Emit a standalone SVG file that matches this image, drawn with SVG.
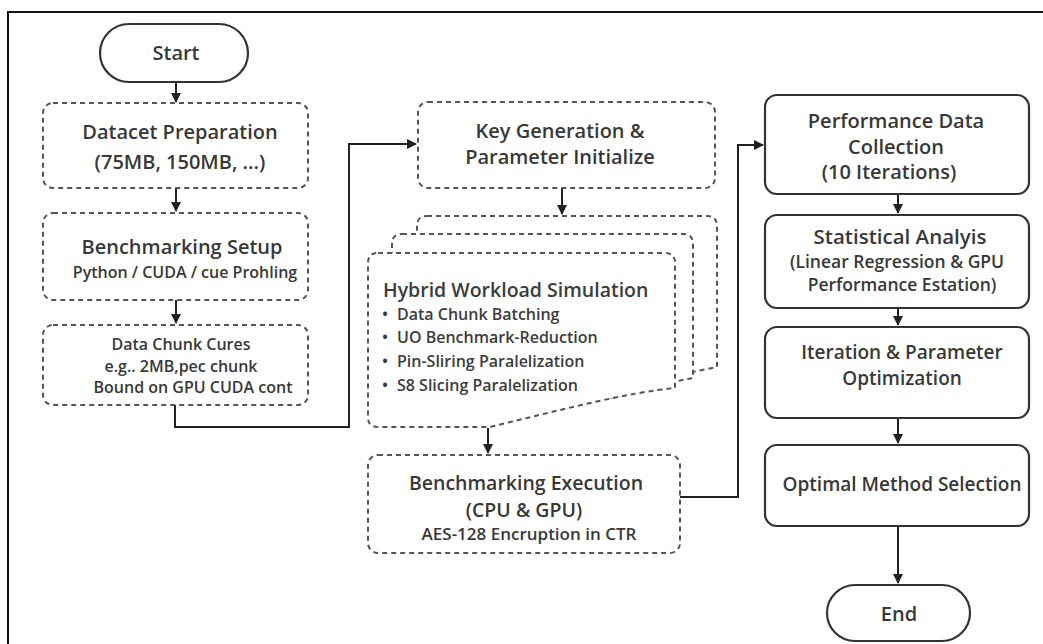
<svg xmlns="http://www.w3.org/2000/svg" width="1043" height="644" viewBox="0 0 1043 644">
<style>
.t{font-family:"Open Sans","Liberation Sans",sans-serif;font-weight:600;fill:#383838;text-anchor:middle}
.s{font-family:"Open Sans","Liberation Sans",sans-serif;font-weight:600;fill:#3c3c3c}
.d{fill:#fff;stroke:#555;stroke-width:2;stroke-dasharray:5 4}
.b{fill:#fff;stroke:#333;stroke-width:2.2}
.c{fill:none;stroke:#222;stroke-width:2}
</style>
<defs>
<marker id="ah" viewBox="0 0 10 10" refX="9" refY="5" markerWidth="5" markerHeight="5" orient="auto">
<path d="M0,0 L10,5 L0,10 Z" fill="#222"/>
</marker>
</defs>
<rect x="0" y="0" width="1043" height="644" fill="#fff"/>
<path d="M8,650 V12 H1050" fill="none" stroke="#111" stroke-width="2"/>

<g id="connectors">
<line class="c" x1="176" y1="82" x2="176" y2="102" marker-end="url(#ah)"/>
<line class="c" x1="176" y1="188" x2="176" y2="211" marker-end="url(#ah)"/>
<line class="c" x1="176" y1="300" x2="176" y2="323" marker-end="url(#ah)"/>
<path class="c" d="M175,405 V427 H349 V144 H416" marker-end="url(#ah)"/>
<line class="c" x1="562" y1="188" x2="562" y2="214" marker-end="url(#ah)"/>
<line class="c" x1="488" y1="428" x2="488" y2="453" marker-end="url(#ah)"/>
<path class="c" d="M680,497 H738 V145 H763" marker-end="url(#ah)"/>
<line class="c" x1="898" y1="194" x2="898" y2="213" marker-end="url(#ah)"/>
<line class="c" x1="898" y1="308" x2="898" y2="325" marker-end="url(#ah)"/>
<line class="c" x1="898" y1="418" x2="898" y2="443" marker-end="url(#ah)"/>
<line class="c" x1="898" y1="526" x2="898" y2="583" marker-end="url(#ah)"/>
</g>

<g id="start">
<rect class="b" x="100" y="24" width="148" height="58" rx="29"/>
<text class="t" x="176" y="60" font-size="20">Start</text>
</g>

<g id="dataset">
<rect class="d" x="43" y="103" width="265" height="85" rx="10"/>
<text class="t" x="180" y="139" font-size="20">Datacet Preparation</text>
<text class="t" x="180" y="169" font-size="20">(75MB, 150MB, ...)</text>
</g>

<g id="setup">
<rect class="d" x="43" y="213" width="265" height="87" rx="10"/>
<text class="t" x="182" y="254" font-size="20">Benchmarking Setup</text>
<text class="t" x="185" y="278" font-size="16">Python / CUDA / cue Prohling</text>
</g>

<g id="chunk">
<rect class="d" x="43" y="325" width="265" height="80" rx="10"/>
<text class="t" x="181" y="350" font-size="16">Data Chunk Cures</text>
<text class="t" x="181" y="372" font-size="16">e.g.. 2MB,pec chunk</text>
<text class="t" x="193" y="393" font-size="16">Bound on GPU CUDA cont</text>
</g>

<g id="keygen">
<rect class="d" x="418" y="102" width="297" height="86" rx="10"/>
<text class="t" x="560" y="138" font-size="20">Key Generation &amp;</text>
<text class="t" x="560" y="164" font-size="20">Parameter Initialize</text>
</g>

<g id="hybrid">
<path class="d" d="M427,216 H707 Q717,216 717,226 V367 C690,372 660,380 640,385 L500,400 Q470,400 430,395 Q417,395 417,385 V226 Q417,216 427,216 Z"/>
<path class="d" d="M402,234 H683 Q693,234 693,244 V378 C665,383 635,392 610,398 L480,412 Q450,412 405,408 Q392,408 392,398 V244 Q392,234 402,234 Z"/>
<path class="d" d="M378,253 H665 Q675,253 675,263 V388 C630,392 560,410 490,427 H378 Q368,427 368,417 V263 Q368,253 378,253 Z"/>
<text class="s" x="383" y="297" font-size="19.5">Hybrid Workload Simulation</text>
<text class="s" x="382" y="320" font-size="16">•</text>
<text class="s" x="397" y="320" font-size="16">Data Chunk Batching</text>
<text class="s" x="382" y="343" font-size="16">•</text>
<text class="s" x="397" y="343" font-size="16">UO Benchmark-Reduction</text>
<text class="s" x="382" y="367" font-size="16">•</text>
<text class="s" x="397" y="367" font-size="16">Pin-Sliring Paralelization</text>
<text class="s" x="382" y="391" font-size="16">•</text>
<text class="s" x="397" y="391" font-size="16">S8 Slicing Paralelization</text>
</g>

<g id="exec">
<rect class="d" x="368" y="455" width="312" height="98" rx="10"/>
<text class="t" x="526" y="490" font-size="19.5">Benchmarking Execution</text>
<text class="t" x="524" y="517" font-size="19.5">(CPU &amp; GPU)</text>
<text class="t" x="529" y="540" font-size="17">AES-128 Encruption in CTR</text>
</g>

<g id="perf">
<rect class="b" x="765" y="95" width="264" height="99" rx="12"/>
<text class="t" x="896" y="128" font-size="20">Performance Data</text>
<text class="t" x="896" y="154" font-size="20">Collection</text>
<text class="t" x="889" y="179" font-size="20">(10 Iterations)</text>
</g>

<g id="stat">
<rect class="b" x="765" y="215" width="264" height="93" rx="12"/>
<text class="t" x="900" y="244" font-size="20.5">Statistical Analyis</text>
<text class="t" x="897" y="268" font-size="17.5">(Linear Regression &amp; GPU</text>
<text class="t" x="902" y="291" font-size="17.5">Performance Estation)</text>
</g>

<g id="iter">
<rect class="b" x="765" y="327" width="264" height="91" rx="12"/>
<text class="t" x="902" y="359" font-size="19">Iteration &amp; Parameter</text>
<text class="t" x="902" y="385" font-size="19">Optimization</text>
</g>

<g id="optimal">
<rect class="b" x="765" y="445" width="264" height="81" rx="12"/>
<text class="t" x="902" y="491" font-size="19">Optimal Method Selection</text>
</g>

<g id="end">
<rect class="b" x="827" y="585" width="143" height="56" rx="28"/>
<text class="t" x="899" y="621" font-size="20">End</text>
</g>
</svg>
